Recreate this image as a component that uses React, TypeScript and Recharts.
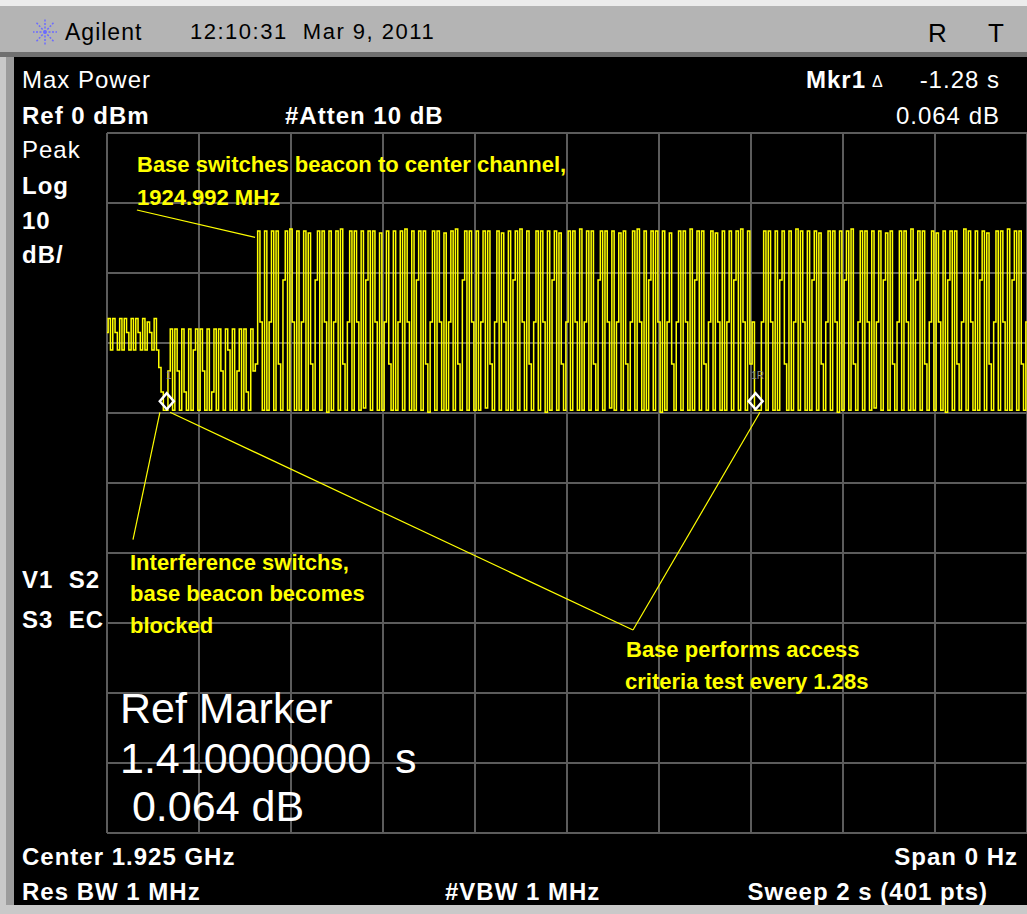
import React from 'react';
import { LineChart, Line, XAxis, YAxis, CartesianGrid, ReferenceLine, ReferenceDot } from 'recharts';

// Zero span sweep: 2 s, 401 points, ref level 0 dBm, 10 dB/div
const SWEEP_S = 2;
const timeTicks = [0, 0.2, 0.4, 0.6, 0.8, 1, 1.2, 1.4, 1.6, 1.8, 2];
const dbTicks = [-100, -90, -80, -70, -60, -50, -40, -30, -20, -10, 0];

// beacon on original channel, then the interference hit (pts 0-26)
const preSwitch = [
  -28.5, -26.5, -31, -26.5, -28.5, -31, -26.5, -31, -26.5, -28.5, -31, -26.5,
  -31, -26.5, -28.5, -31, -26.5, -31, -27, -28.5, -31, -26.5, -31, -33.5,
  -37, -39.6, -39.6,
];

// blocked beacon (pts 27-65)
const blocked = [
  -34, -28, -39.6, -28, -34, -39.6, -28, -37, -39.6, -28, -39.6, -31,
  -28, -39.6, -28, -34, -39.6, -28, -39.6, -37, -28, -39.6, -28, -34,
  -39.6, -28, -31, -39.6, -28, -39.6, -34, -28, -39.6, -28, -37, -39.6,
  -28, -34, -33,
];

// beacon on center channel 1924.992 MHz (pts 66-281)
const centerChannel = [
  -14, -27, -39.6, -14, -39.6, -27, -14, -39.6, -14, -33, -39.6, -21,
  -14, -39.6, -13.7, -27, -39.6, -14, -39.6, -27, -14, -39.6, -14.3, -33,
  -39.6, -21, -14, -39.6, -14, -27, -39.9, -14, -39.6, -27, -14, -39.6,
  -13.7, -33, -39.6, -27, -14, -39.6, -14, -27, -39.6, -14, -39.3, -21,
  -14, -39.6, -14, -27, -39.6, -14.3, -39.6, -27, -14, -33, -39.6, -14,
  -39.6, -27, -14, -39.6, -13.7, -27, -39.6, -14, -39.6, -21, -14, -39.6,
  -14, -33, -39.9, -27, -14, -39.6, -14, -27, -39.6, -14.3, -39.6, -27,
  -14, -39.6, -13.7, -33, -39.6, -21, -14, -39.6, -14, -27, -39.6, -14,
  -39.6, -27, -14, -39.3, -14, -33, -39.6, -27, -14, -39.6, -14.3, -27,
  -39.6, -14, -39.6, -21, -14, -39.6, -13.7, -27, -39.6, -14, -33, -39.6,
  -27, -14, -39.6, -14, -27, -39.9, -14, -39.6, -21, -14, -39.6, -14.3,
  -33, -39.6, -27, -14, -39.6, -14, -27, -39.6, -13.7, -39.6, -27, -14,
  -39.6, -14, -33, -39.6, -21, -14, -39.6, -14, -27, -39.3, -14, -39.6,
  -27, -14.3, -39.6, -14, -33, -39.6, -27, -14, -39.6, -13.7, -27, -39.6,
  -14, -39.6, -21, -14, -39.6, -14, -27, -39.9, -14, -39.6, -27, -14.3,
  -33, -39.6, -27, -14, -39.6, -14, -27, -39.6, -13.7, -39.6, -21, -14,
  -39.6, -14, -33, -39.6, -27, -14, -39.6, -14.3, -27, -39.6, -14, -39.6,
  -27, -14, -39.6, -21, -14, -39.6, -13.7, -27, -39.6, -14, -33, -27,
];

// access criteria test at 1.41 s (pts 282-284)
const refGap = [-39.6, -39.6, -39.6];

// pts 285-400
const afterRef = [
  -27, -14, -39.6, -14, -27, -39.6, -14, -39.6, -21, -14, -33, -39.6,
  -14, -39.6, -27, -13.7, -39.6, -14, -27, -39.6, -14, -39.6, -21, -14,
  -39.6, -14.3, -33, -39.6, -27, -14, -39.6, -14, -27, -39.9, -14, -39.6,
  -21, -14, -39.6, -13.7, -33, -39.6, -27, -14, -39.6, -14, -27, -39.6,
  -14, -39.3, -27, -14, -39.6, -21, -14.3, -39.6, -14, -33, -39.6, -27,
  -14, -39.6, -14, -27, -39.6, -13.7, -39.6, -21, -14, -39.6, -14, -33,
  -39.6, -27, -14, -39.6, -14.3, -27, -39.6, -14, -39.9, -21, -14, -39.6,
  -14, -33, -39.6, -27, -13.7, -39.6, -14, -27, -39.6, -14, -39.6, -21,
  -14, -39.6, -14.3, -33, -39.6, -27, -14, -39.6, -14, -27, -39.6, -13.7,
  -39.6, -21, -14, -39.6, -14, -33, -39.6, -27,
];

const trace = [...preSwitch, ...blocked, ...centerChannel, ...refGap, ...afterRef];
const data = trace.map((v, i) => ({ t: (i * SWEEP_S) / (trace.length - 1), v }));

const refMarker = { t: 1.41, db: -39.6 };
const mkr1 = { t: 0.13, db: -39.6 };

// annotation leader lines (s, dBm)
const leaders = [
  [{ x: 0.065, y: -11 }, { x: 0.322, y: -14.9 }],
  [{ x: 0.115, y: -39.9 }, { x: 0.0565, y: -58.1 }],
  [{ x: 0.137, y: -39.9 }, { x: 1.1435, y: -71 }],
  [{ x: 1.4196, y: -39.9 }, { x: 1.1435, y: -71 }],
];

const FONT = "'Liberation Sans', Arial, Helvetica, sans-serif";
const W = 1027;

type TxtProps = {
  x?: number;
  right?: number;
  y: number;
  size: number;
  bold?: boolean;
  color?: string;
  spacing?: number;
  children: React.ReactNode;
};

function Txt({ x, right, y, size, bold, color = '#fff', spacing = 0, children }: TxtProps) {
  const style: React.CSSProperties = {
    position: 'absolute',
    top: y,
    fontSize: size,
    lineHeight: `${size}px`,
    fontWeight: bold ? 700 : 400,
    color,
    fontFamily: FONT,
    whiteSpace: 'pre',
    letterSpacing: spacing,
    transform: 'translateY(-50%)',
  };
  if (right !== undefined) style.right = W - right;
  else style.left = x;
  return <div style={style}>{children}</div>;
}

const markerShape = (label: string) => (props: any) => {
  const { cx, cy } = props;
  const c = cy - 9;
  return (
    <g>
      <polygon
        points={`${cx},${c - 8} ${cx + 7},${c} ${cx},${c + 8} ${cx - 7},${c}`}
        fill="none"
        stroke="#ffffff"
        strokeWidth={2.5}
      />
      <text x={cx + 2} y={c - 22} fontSize={10} fill="#8f8f8f" textAnchor="middle" fontFamily={FONT}>
        {label}
      </text>
    </g>
  );
};

function Logo() {
  const rays = [0, 45, 90, 135, 180, 225, 270, 315];
  return (
    <svg width={28} height={30} style={{ position: 'absolute', left: 31, top: 17 }}>
      {rays.map((a) => (
        <line
          key={a}
          x1={14}
          y1={15}
          x2={14 + 12 * Math.cos((a * Math.PI) / 180)}
          y2={15 + 13 * Math.sin((a * Math.PI) / 180)}
          stroke="#6b6bff"
          strokeWidth={1.5}
          strokeDasharray="2 1.5"
        />
      ))}
    </svg>
  );
}

export default function App() {
  const Y = '#ffff00';
  return (
    <div style={{ position: 'absolute', left: 0, top: 0, width: W, height: 914, background: '#c9c9c9', overflow: 'hidden' }}>
      {/* title bar */}
      <div style={{ position: 'absolute', left: 0, top: 0, width: W, height: 6, background: '#ececec' }} />
      <div style={{ position: 'absolute', left: 0, top: 6, width: W, height: 46, background: '#b4b4b4' }} />
      <div style={{ position: 'absolute', left: 0, top: 52, width: W, height: 5, background: '#707070' }} />
      <div style={{ position: 'absolute', left: 6, top: 57, width: 8, height: 848, background: '#9c9c9c' }} />
      <Logo />
      <Txt x={65} y={32} size={23} color="#000" spacing={1}>Agilent</Txt>
      <Txt x={190} y={32} size={22} color="#000" spacing={1.5}>12:10:31  Mar 9, 2011</Txt>
      <Txt x={928} y={33} size={26} color="#000">R</Txt>
      <Txt x={988} y={33} size={26} color="#000">T</Txt>

      {/* screen */}
      <div style={{ position: 'absolute', left: 14, top: 57, width: W - 14, height: 848, background: '#000' }} />

      <Txt x={22} y={80} size={24} spacing={1}>Max Power</Txt>
      <Txt x={806} y={80} size={24} bold spacing={1}>Mkr1</Txt>
      <Txt x={872} y={82} size={16}>Δ</Txt>
      <Txt right={1000} y={80} size={24} spacing={1}>-1.28 s</Txt>
      <Txt x={22} y={116} size={24} bold spacing={1}>Ref 0 dBm</Txt>
      <Txt x={285} y={116} size={24} bold spacing={1}>#Atten 10 dB</Txt>
      <Txt right={1000} y={116} size={24} spacing={1}>0.064 dB</Txt>
      <Txt x={22} y={150} size={24} spacing={1}>Peak</Txt>
      <Txt x={22} y={186} size={24} bold spacing={1}>Log</Txt>
      <Txt x={22} y={221} size={24} bold spacing={1}>10</Txt>
      <Txt x={22} y={255} size={24} bold spacing={1}>dB/</Txt>
      <Txt x={22} y={580} size={24} bold spacing={1}>V1  S2</Txt>
      <Txt x={22} y={620} size={24} bold spacing={1}>S3  EC</Txt>

      <div style={{ position: 'absolute', left: 97, top: 123 }}>
        <LineChart width={940} height={720} data={data} margin={{ top: 10, right: 10, bottom: 10, left: 10 }}>
          <CartesianGrid stroke="#5c5c5c" strokeWidth={2} />
          <XAxis dataKey="t" type="number" domain={[0, SWEEP_S]} ticks={timeTicks} hide />
          <YAxis type="number" domain={[-100, 0]} ticks={dbTicks} hide />
          <Line type="step" dataKey="v" stroke={Y} strokeWidth={1.5} dot={false} isAnimationActive={false} />
          {leaders.map((seg, i) => (
            <ReferenceLine key={i} segment={seg} stroke={Y} strokeWidth={1.2} ifOverflow="visible" />
          ))}
          <ReferenceDot x={mkr1.t} y={mkr1.db} shape={markerShape('1')} ifOverflow="visible" />
          <ReferenceDot x={refMarker.t} y={refMarker.db} shape={markerShape('1R')} ifOverflow="visible" />
        </LineChart>
      </div>

      {/* annotations */}
      <Txt x={137} y={165} size={22} bold color={Y}>Base switches beacon to center channel,</Txt>
      <Txt x={137} y={198} size={22} bold color={Y}>1924.992 MHz</Txt>
      <Txt x={130} y={563} size={22} bold color={Y}>Interference switchs,</Txt>
      <Txt x={130} y={594} size={22} bold color={Y}>base beacon becomes</Txt>
      <Txt x={130} y={626} size={22} bold color={Y}>blocked</Txt>
      <Txt x={626} y={650} size={22} bold color={Y}>Base performs access</Txt>
      <Txt x={625} y={682} size={22} bold color={Y}>criteria test every 1.28s</Txt>

      <Txt x={120} y={708} size={43}>Ref Marker</Txt>
      <Txt x={120} y={758} size={43}>1.410000000  s</Txt>
      <Txt x={120} y={806} size={43}> 0.064 dB</Txt>

      <Txt x={22} y={857} size={24} bold spacing={1}>Center 1.925 GHz</Txt>
      <Txt right={1018} y={857} size={24} bold spacing={1}>Span 0 Hz</Txt>
      <Txt x={22} y={892} size={24} bold spacing={1}>Res BW 1 MHz</Txt>
      <Txt x={445} y={892} size={24} bold spacing={1}>#VBW 1 MHz</Txt>
      <Txt right={988} y={892} size={24} bold spacing={1}>Sweep 2 s (401 pts)</Txt>
    </div>
  );
}
